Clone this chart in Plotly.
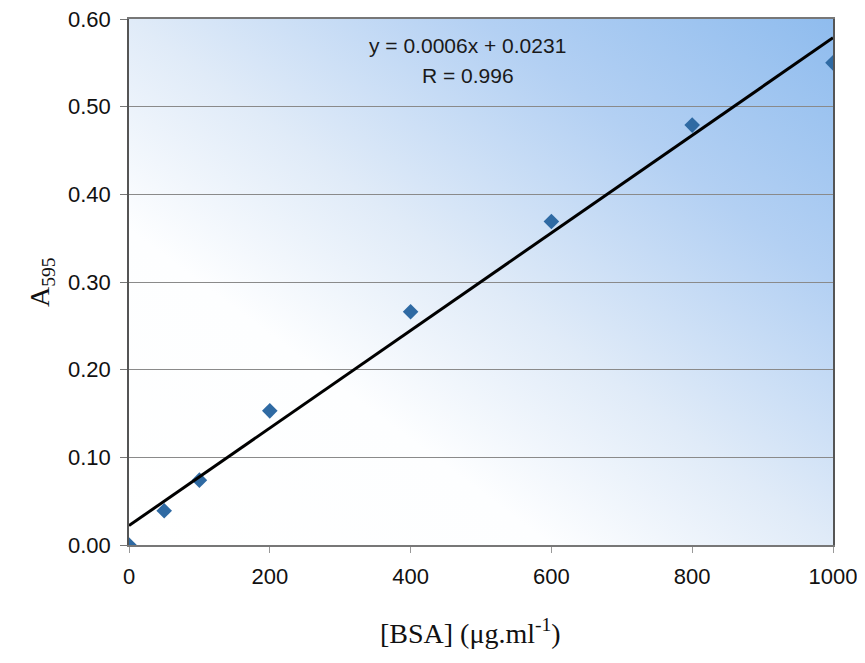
import base64
import numpy as np
import plotly.graph_objects as go

# Data
bsa = [0, 50, 100, 200, 400, 600, 800, 1000]
a595 = [0.000, 0.039, 0.074, 0.153, 0.266, 0.369, 0.479, 0.550]
x_ticks = [0, 200, 400, 600, 800, 1000]
y_ticks = [0.0, 0.1, 0.2, 0.3, 0.4, 0.5, 0.6]
eq_line1 = "y = 0.0006x + 0.0231"
eq_line2 = "R = 0.996"

# linear trendline (least squares from the data)
slope, intercept = np.polyfit(bsa, a595, 1)
fit_x = [min(x_ticks), max(x_ticks)]
fit_y = [slope * v + intercept for v in fit_x]

svg = """<svg xmlns='http://www.w3.org/2000/svg' width='100' height='100' viewBox='0 0 100 100' preserveAspectRatio='none'>
<defs><linearGradient id='g' x1='0' y1='1' x2='1' y2='0'>
<stop offset='0' stop-color='#ffffff'/>
<stop offset='0.3' stop-color='#fdfeff'/>
<stop offset='0.5' stop-color='#e0ebf8'/>
<stop offset='0.75' stop-color='#b3d0f3'/>
<stop offset='1' stop-color='#8fbcee'/>
</linearGradient></defs>
<rect x='0' y='0' width='100' height='100' fill='url(#g)'/></svg>"""
src = "data:image/svg+xml;base64," + base64.b64encode(svg.encode()).decode()

fig = go.Figure()
fig.add_trace(go.Scatter(
    x=bsa, y=a595, mode="markers",
    marker=dict(symbol="diamond", size=12, color="#2f6aa3"),
    showlegend=False, hoverinfo="x+y"))
fig.add_trace(go.Scatter(
    x=fit_x, y=fit_y, mode="lines",
    line=dict(color="black", width=3),
    showlegend=False, hoverinfo="skip"))

fig.add_layout_image(dict(
    source=src, xref="x", yref="y", x=0, y=0.6, sizex=1000, sizey=0.6,
    sizing="stretch", xanchor="left", yanchor="top", layer="below", opacity=1))

eq_font = dict(family="Liberation Sans, Arial", size=21, color="#1a1a1a")
fig.add_annotation(x=481, y=0.570, xref="x", yref="y", text=eq_line1,
                   showarrow=False, font=eq_font)
fig.add_annotation(x=481, y=0.536, xref="x", yref="y", text=eq_line2,
                   showarrow=False, font=eq_font)

tick_font = dict(family="Liberation Sans, Arial", size=22, color="#111111")
title_font = dict(family="Liberation Serif, Times New Roman", size=28, color="#111111")

fig.add_annotation(x=0.485, y=-0.165, xref="paper", yref="paper", yanchor="middle",
                   text="[BSA] (μg.ml<sup>-1</sup>)", showarrow=False, font=title_font)
fig.add_annotation(x=-0.125, y=0.5, xref="paper", yref="paper", xanchor="center",
                   text="A<sub>595</sub>", textangle=-90, showarrow=False, font=title_font)

fig.update_layout(
    width=857, height=655,
    margin=dict(l=121, r=32, t=11, b=118, autoexpand=False),
    paper_bgcolor="white", plot_bgcolor="white",
    xaxis=dict(
        range=[0, 1000], tickvals=x_ticks, ticktext=[str(v) for v in x_ticks],
        showgrid=False, zeroline=False, showline=True, linecolor="#777777",
        linewidth=1.5, mirror=True, ticks="outside", ticklen=6, tickcolor="#999999",
        tickfont=tick_font, ticklabelstandoff=5, automargin=False,
        ticklabeloverflow="allow"),
    yaxis=dict(
        range=[0, 0.6], tickvals=y_ticks, ticktext=[f"{v:.2f}" for v in y_ticks],
        showgrid=True, gridcolor="#8a8a8a", gridwidth=1,
        zeroline=False, showline=True, linecolor="#555555", linewidth=1.5, mirror=True,
        ticks="outside", ticklen=7, tickcolor="#777777", tickfont=tick_font,
        ticklabelstandoff=5, automargin=False, ticklabeloverflow="allow"),
)

fig.write_html("out.html")
